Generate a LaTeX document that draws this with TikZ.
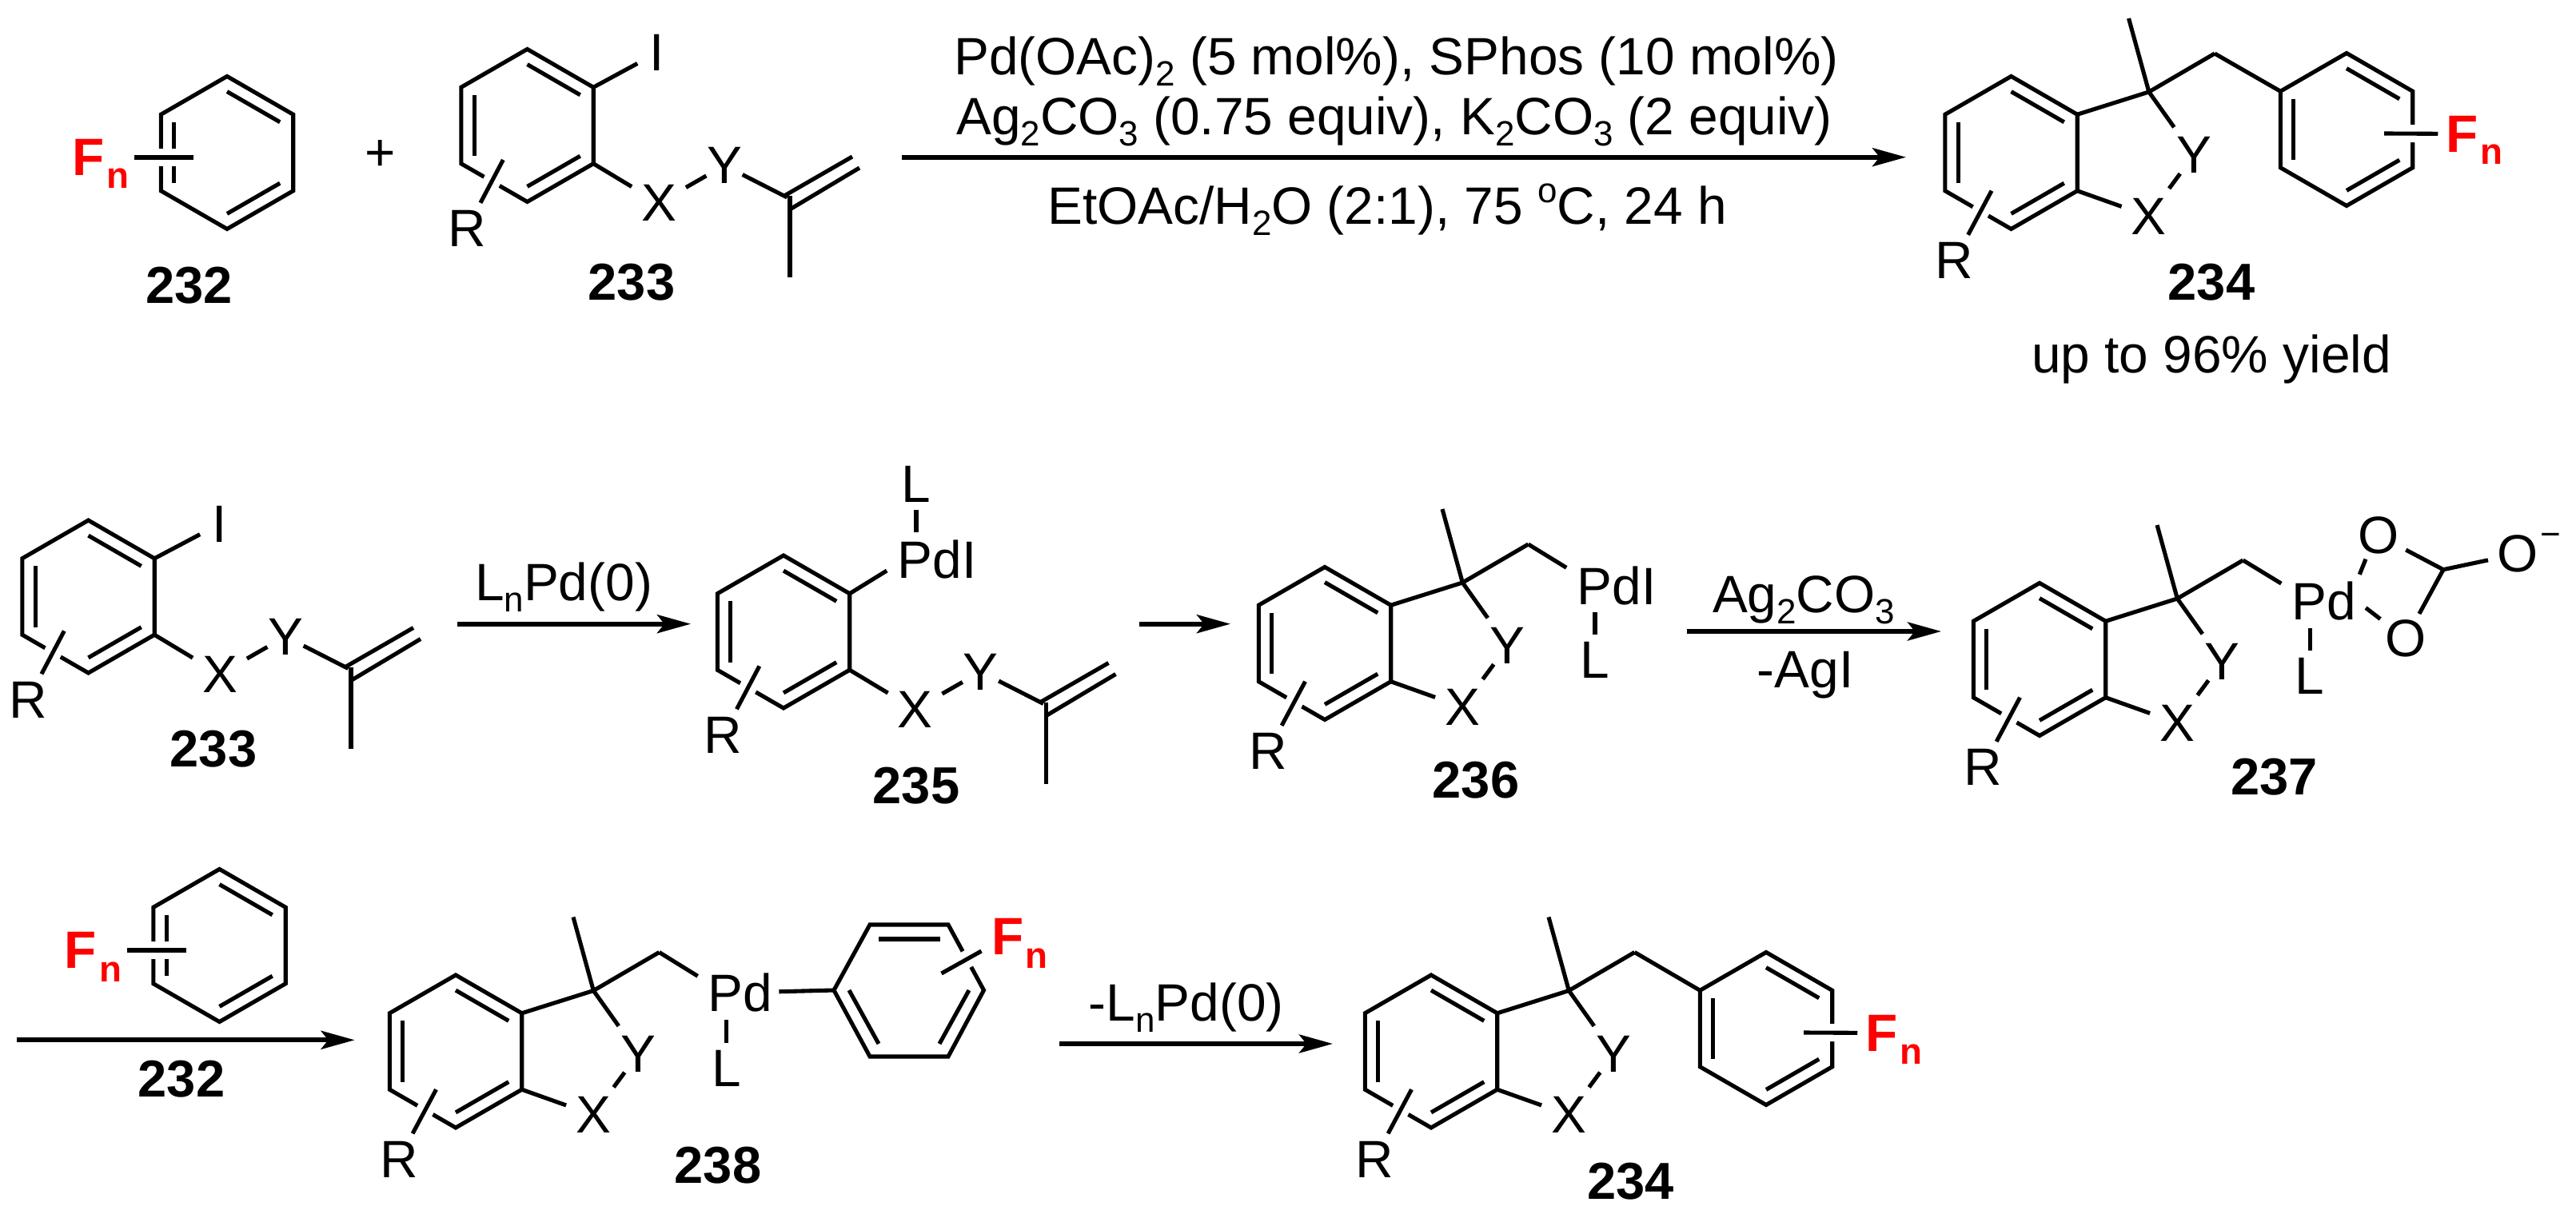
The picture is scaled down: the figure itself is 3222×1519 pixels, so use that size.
\documentclass[tikz,border=0pt]{standalone}
\usepackage{fontspec}
\setmainfont{Liberation Sans}
\usetikzlibrary{arrows.meta}
\definecolor{m_red}{HTML}{FF0000}
\newcommand{\low}[1]{\raisebox{-.14cm}{\fontsize{12.5}{13}\selectfont #1}}
\newcommand{\ringbonds}{
    \coordinate (-t) at (0,-95.5);
    \coordinate (-ur) at (82.7,-47.75);
    \coordinate (-lr) at (82.7,47.75);
    \coordinate (-b) at (0,95.5);
    \coordinate (-ll) at (-82.7,47.75);
    \coordinate (-ul) at (-82.7,-47.75);
    \draw[bond] (-t) -- (-ur) -- (-lr) -- (-b) -- (-ll) -- (-ul) -- cycle;
    \draw[bond] (0,-76.4) -- (66.2,-38.2);
    \draw[bond] (0,76.4) -- (66.2,38.2);
    \draw[bond] (-66.2,-38.2) -- (-66.2,38.2);
}
\begin{document}
\begin{tikzpicture}[
        x=.01cm,
        y=-.01cm,
        bond/.style={line width=1.45pt},
        halo/.style={preaction={draw=white,line width=.22cm}},
        rxn/.style={line width=1.6pt,-{Stealth[length=4.2mm,width=2.3mm,inset=.9mm]}},
        atom/.style={inner sep=0pt,font=\fontsize{18.7}{22}\selectfont},
        xatom/.style={atom,outer sep=.12cm},
        cond/.style={atom,anchor=base},
        tag/.style={inner sep=0pt,font=\fontsize{18.5}{22}\selectfont\bfseries},
        fluor/.style={inner sep=0pt,text=m_red,font=\fontsize{18.7}{22}\selectfont\bfseries},
        fsub/.style={inner sep=0pt,anchor=base west,text=m_red,font=\fontsize{13}{14}\selectfont\bfseries},
        lig/.style={bond,shorten <=.09cm,shorten >=.09cm},
        arene/.pic={\ringbonds},
        fluoroL/.pic={
            \ringbonds
            \coordinate (-bar) at (-42,6);
            \node[fluor] (-F) at (-173.5,6) {F};
            \node[fsub] (-n) at (-151,45) {n};
            \draw[bond,halo,shorten <=.37cm] (-F) -- (-bar);
        },
        fluoroR/.pic={
            \ringbonds
            \coordinate (-bar) at (47,5);
            \node[fluor] (-F) at (145,5.5) {F};
            \node[fsub] (-n) at (167,44) {n};
            \draw[bond,halo,shorten >=.1cm] (-bar) -- (-F);
        },
        tether/.pic={
            \ringbonds
            \node[atom] (-R) at (-75.5,129) {R};
            \node[xatom] (-X) at (164.5,97) {X};
            \node[atom] (-Y) at (246.5,50) {Y};
            \coordinate (-Ra) at (-30.2,43);
            \coordinate (-C) at (325,90);
            \coordinate (-Ca) at (321.5,88);
            \coordinate (-Cb) at (328.5,105);
            \coordinate (-Cc) at (328.5,88);
            \coordinate (-Ha) at (406.5,39);
            \coordinate (-Hb) at (415.5,53);
            \coordinate (-Me) at (328.5,190);
            \draw[bond,halo,shorten <=.1cm] (-R) -- (-Ra);
            \draw[bond] (-lr) -- (-X);
            \draw[bond] (-X) -- (-Y);
            \draw[bond] (-Y) -- (-C);
            \draw[bond] (-Ca) -- (-Ha);
            \draw[bond] (-Cb) -- (-Hb);
            \draw[bond] (-Cc) -- (-Me);
        },
        indane/.pic={
            \ringbonds
            \node[atom] (-R) at (-71,135) {R};
            \node[xatom] (-X) at (172,79.5) {X};
            \node[atom] (-Y) at (228.5,3) {Y};
            \coordinate (-Ra) at (-24.5,47.7);
            \coordinate (-C) at (172.3,-76);
            \coordinate (-Me) at (147,-168);
            \coordinate (-CH) at (254.5,-124);
            \draw[bond,halo,shorten <=.1cm] (-R) -- (-Ra);
            \draw[bond] (-ur) -- (-C);
            \draw[bond] (-C) -- (-Me);
            \draw[bond] (-C) -- (-CH);
            \draw[bond,shorten >=.14cm] (-C) -- (-Y);
            \draw[bond] (-Y) -- (-X);
            \draw[bond] (-lr) -- (-X);
        }
    ]
    \useasboundingbox (0,0) rectangle (3222,1519);

    \pic (A) at (284,191) {fluoroL};
    \node[tag] (n232) at (236.5,357.5) {232};
    \node[atom] (plus) at (476,195) {+};
    \pic (B) at (659.5,157) {tether};
    \node[atom] (BI) at (822,66) {I};
    \draw[bond,shorten >=.17cm] (B-ur) -- (BI);
    \node[tag] (n233) at (790,353) {233};

    \coordinate (s1) at (1128,196.7);
    \coordinate (e1) at (2384,196.7);
    \path[rxn] (s1) edge (e1);
    \node[cond] (c1) at (1746.5,94) {Pd(OAc)\low{2} (5 mol\%), SPhos (10 mol\%)};
    \node[cond] (c2) at (1744,169) {Ag\low{2}CO\low{3} (0.75 equiv), K\low{2}CO\low{3} (2 equiv)};
    \node[cond] (c3) at (1735,280.7) {EtOAc/H\low{2}O (2:1), 75 \raisebox{.27cm}{\fontsize{12.5}{13}\selectfont o}C, 24 h};

    \pic (D) at (2515.5,191) {indane};
    \pic (E) at (2935,162) {fluoroR};
    \draw[bond] (D-CH) -- (E-ul);
    \node[tag] (n234) at (2766,353) {234};
    \node[cond] (yield) at (2766,467) {up to 96\% yield};

    \pic (G) at (110.5,746.5) {tether};
    \node[atom] (GI) at (275,655.5) {I};
    \draw[bond,shorten >=.17cm] (G-ur) -- (GI);
    \node[tag] (n233b) at (267,937) {233};

    \coordinate (s2) at (571.7,780.7);
    \coordinate (e2) at (864,780.7);
    \path[rxn] (s2) edge (e2);
    \node[cond] (c4) at (705,751.7) {L\low{n}Pd(0)};

    \pic (H) at (980,790.5) {tether};
    \node[atom] (PdH) at (1172,700) {PdI};
    \node[atom] (LH) at (1146,605.5) {L};
    \draw[bond,shorten >=.15cm] (H-ur) -- (PdH.187);
    \draw[lig] (LH) -- (LH |- PdH.north);
    \node[tag] (n235) at (1146,983) {235};

    \coordinate (s3) at (1425,780.7);
    \coordinate (e3) at (1539,780.7);
    \path[rxn] (s3) edge (e3);

    \pic (J) at (1657,805) {indane};
    \node[atom] (PdJ) at (2022,732.5) {PdI};
    \node[atom] (LJ) at (1995,826) {L};
    \draw[bond,shorten >=.15cm] (J-CH) -- (PdJ.164.5);
    \draw[lig] (PdJ.south -| LJ) -- (LJ);
    \node[tag] (n236) at (1846,976.5) {236};

    \coordinate (s4) at (2110,790);
    \coordinate (e4) at (2428,790);
    \path[rxn] (s4) edge (e4);
    \node[cond] (c5) at (2256,766.7) {Ag\low{2}CO\low{3}};
    \node[cond] (c6) at (2258,860) {-AgI};

    \pic (K) at (2551,825) {indane};
    \node[atom] (PdK) at (2907,752) {Pd};
    \node[atom] (LK) at (2889,846) {L};
    \node[atom] (Oa) at (2975,670) {O};
    \node[atom] (Ob) at (3009,799) {O};
    \node[atom] (Oc) at (3149,693) {O};
    \node[atom,anchor=base,font=\fontsize{12.5}{13}\selectfont] (minus) at (3190,683) {−};
    \coordinate (CK) at (3056,712.7);
    \draw[bond,shorten >=.15cm] (K-CH) -- (PdK.161);
    \draw[lig] (PdK.south -| LK) -- (LK);
    \draw[bond,shorten <=.09cm,shorten >=.06cm] (PdK.north east) -- (Oa.240.5);
    \draw[bond,shorten <=.14cm,shorten >=.07cm] (PdK.east) -- (Ob);
    \draw[bond,shorten <=.09cm] (Oa) -- (CK);
    \draw[bond,shorten <=.08cm] (Ob) -- (CK);
    \draw[bond,shorten >=.11cm] (CK) -- (Oc);
    \node[tag] (n237) at (2844.7,972) {237};

    \coordinate (s5) at (20.7,1301.3);
    \coordinate (e5) at (443.6,1301.3);
    \path[rxn] (s5) edge (e5);
    \pic (M) at (274.5,1183) {fluoroL};
    \node[tag] (n232b) at (227,1350) {232};

    \pic (P) at (570,1315.5) {indane};
    \node[atom] (PdP) at (925.5,1242) {Pd};
    \node[atom] (LP) at (908.5,1337) {L};
    \draw[bond,shorten >=.14cm] (P-CH) -- (PdP.162);
    \draw[lig] (PdP.south -| LP) -- (LP);
    \coordinate (Qa) at (1088,1157);
    \coordinate (Qb) at (1186,1157);
    \coordinate (Qc) at (1230.5,1239);
    \coordinate (Qd) at (1186,1322);
    \coordinate (Qe) at (1088,1322);
    \coordinate (Qf) at (1043,1239);
    \coordinate (Qg) at (1177.5,1218);
    \draw[bond] (Qa) -- (Qb) -- (Qc) -- (Qd) -- (Qe) -- (Qf) -- cycle;
    \draw[bond] (1099,1175) -- (1176,1175);
    \draw[bond] (1062,1239) -- (1099,1306);
    \draw[bond] (1212,1239) -- (1175,1306);
    \node[fluor] (FQ) at (1260.5,1171.5) {F};
    \node[fsub] (nQ) at (1282,1211) {n};
    \draw[bond,halo,shorten >=.14cm] (Qg) -- (FQ);
    \draw[bond,shorten <=.08cm] (PdP) -- (Qf);
    \node[tag] (n238) at (898,1458) {238};

    \coordinate (s6) at (1325,1306);
    \coordinate (e6) at (1667,1306);
    \path[rxn] (s6) edge (e6);
    \node[cond] (c7) at (1483.7,1277) {-L\low{n}Pd(0)};

    \pic (S) at (1790,1315.5) {indane};
    \pic (T) at (2209,1287) {fluoroR};
    \draw[bond] (S-CH) -- (T-ul);
    \node[tag] (n234b) at (2039.5,1478) {234};
\end{tikzpicture}
\end{document}
